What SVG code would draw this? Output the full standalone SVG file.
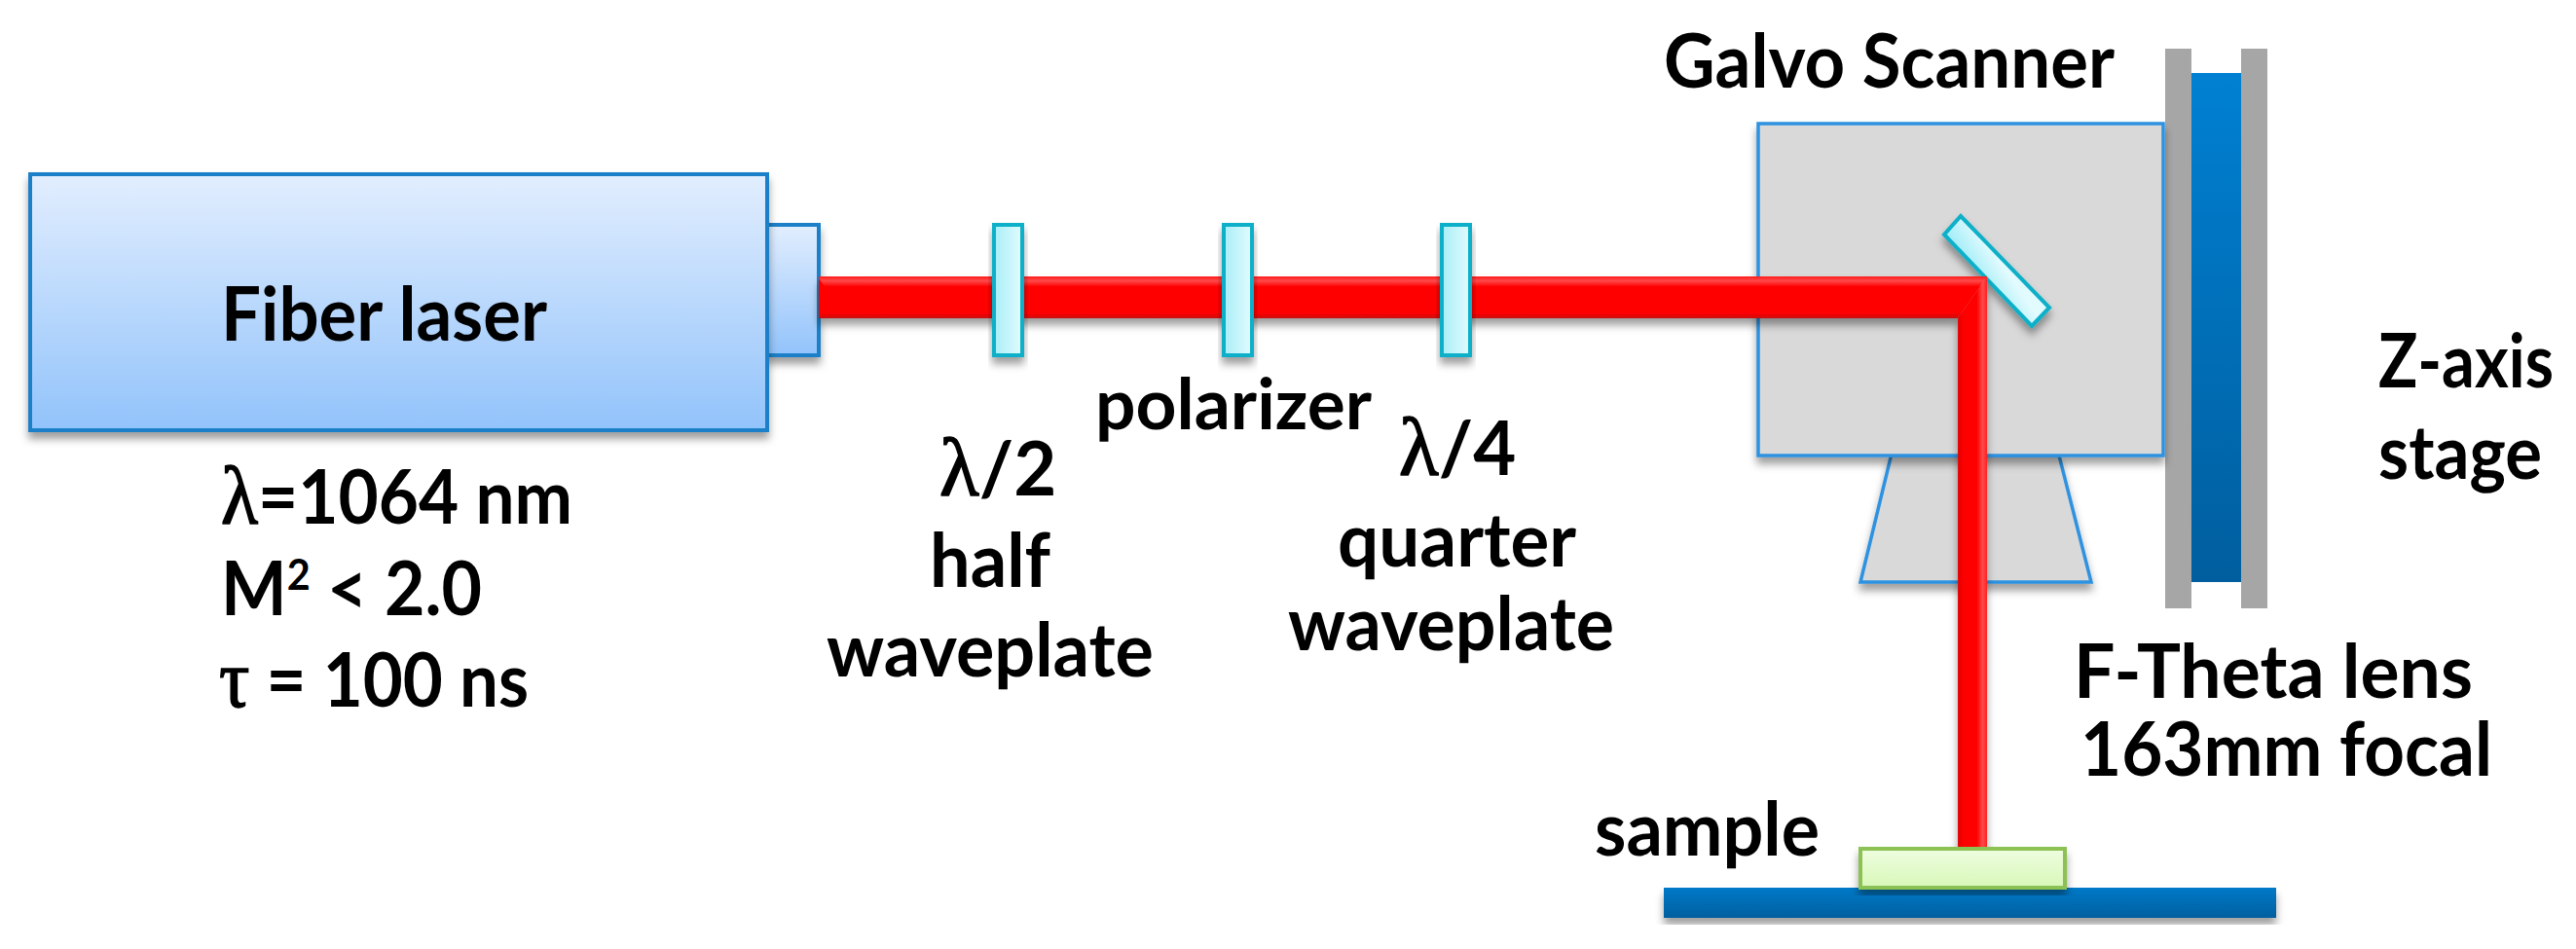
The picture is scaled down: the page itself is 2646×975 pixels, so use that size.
<svg xmlns="http://www.w3.org/2000/svg" width="2646" height="975" viewBox="0 0 2646 975">
<style>
text{font-family:"Lato","Liberation Sans",sans-serif;font-weight:700;font-size:76px;fill:#000}
.g{font-family:"Liberation Serif",serif;font-weight:400;font-size:84px;stroke:#000;stroke-width:1.5}
.box{stroke:#1b80c8;stroke-width:4}
.plate{fill:url(#plate);stroke:#0fb0c8;stroke-width:4;filter:url(#sh)}
.gray{fill:#d9d9d9;stroke:#2f92e0;stroke-width:3.5}
.bar{fill:#a6a6a6}
</style>
<defs>
<linearGradient id="laser" x1="0" y1="0" x2="0" y2="1"><stop offset="0" stop-color="#e2eefe"/><stop offset="1" stop-color="#92c3fb"/></linearGradient>
<linearGradient id="plate" x1="0" y1="0" x2="1" y2="0"><stop offset="0" stop-color="#a8eef8"/><stop offset="1" stop-color="#e2fbfe"/></linearGradient>
<linearGradient id="mirror" gradientUnits="userSpaceOnUse" x1="2040" y1="295" x2="2062" y2="280"><stop offset="0" stop-color="#a8eef8"/><stop offset="1" stop-color="#e2fbfe"/></linearGradient>
<linearGradient id="beamH" x1="0" y1="0" x2="0" y2="1"><stop offset="0" stop-color="#ff1a1a"/><stop offset=".1" stop-color="#ff4a4a"/><stop offset=".25" stop-color="#ff0000"/><stop offset=".88" stop-color="#ff0000"/><stop offset="1" stop-color="#c80c0c"/></linearGradient>
<linearGradient id="beamV" x1="0" y1="0" x2="1" y2="0"><stop offset="0" stop-color="#e00808"/><stop offset=".2" stop-color="#ff0000"/><stop offset=".65" stop-color="#ff0000"/><stop offset=".85" stop-color="#ff4a4a"/><stop offset="1" stop-color="#ff2020"/></linearGradient>
<linearGradient id="blueV" x1="0" y1="0" x2="0" y2="1"><stop offset="0" stop-color="#0080d2"/><stop offset="1" stop-color="#005e9e"/></linearGradient>
<linearGradient id="blueH" x1="0" y1="0" x2="0" y2="1"><stop offset="0" stop-color="#0079c8"/><stop offset="1" stop-color="#005f9f"/></linearGradient>
<linearGradient id="green" x1="0" y1="0" x2="0" y2="1"><stop offset="0" stop-color="#eefde0"/><stop offset="1" stop-color="#d8f8b8"/></linearGradient>
<filter id="sh" x="-20%" y="-20%" width="140%" height="140%"><feDropShadow dx="0" dy="7" stdDeviation="4" flood-color="#000" flood-opacity=".38"/></filter>
</defs>

<g id="z-axis-stage">
<rect class="bar" x="2224" y="50" width="27" height="575"/>
<rect class="bar" x="2302" y="50" width="27" height="575"/>
<rect x="2251" y="75" width="51" height="523" fill="url(#blueV)"/>
<text x="2443" y="398" textLength="180" lengthAdjust="spacingAndGlyphs">Z-axis</text>
<text x="2443" y="492" textLength="168" lengthAdjust="spacingAndGlyphs">stage</text>
</g>

<g id="f-theta-lens">
<polygon class="gray" points="1942.5,468 2115,468 2148,598 1911,598" filter="url(#sh)"/>
<text x="2130" y="717" textLength="410" lengthAdjust="spacingAndGlyphs">F-Theta lens</text>
<text x="2137" y="797" textLength="423" lengthAdjust="spacingAndGlyphs">163mm focal</text>
</g>

<g id="galvo-scanner">
<rect class="gray" x="1806" y="127" width="416" height="341" filter="url(#sh)"/>
<polygon points="2014,222 2105,316 2087,335 1997,241" fill="url(#mirror)" stroke="#0fb0c8" stroke-width="4" filter="url(#sh)"/>
<text x="1709" y="90" textLength="463" lengthAdjust="spacingAndGlyphs">Galvo Scanner</text>
</g>

<g id="sample-stage">
<rect x="1709" y="912" width="629" height="31" fill="url(#blueH)" filter="url(#sh)"/>
</g>

<g id="fiber-laser">
<rect x="788" y="231" width="53" height="134" fill="url(#laser)" class="box" filter="url(#sh)"/>
<rect x="31" y="179" width="757" height="263" fill="url(#laser)" class="box" filter="url(#sh)"/>
<text x="227" y="350" textLength="335" lengthAdjust="spacingAndGlyphs">Fiber laser</text>
<text x="227" y="538" textLength="361" lengthAdjust="spacingAndGlyphs"><tspan class="g">λ</tspan>=1064 nm</text>
<text x="227" y="632" textLength="268" lengthAdjust="spacingAndGlyphs">M<tspan font-size="44" dy="-26">2</tspan><tspan dy="26"> &lt; 2.0</tspan></text>
<text x="225" y="726" textLength="318" lengthAdjust="spacingAndGlyphs"><tspan class="g">τ</tspan> = 100 ns</text>
</g>

<g id="connectors">
<g filter="url(#sh)">
<polygon points="841,284 2041,284 2011,327 841,327" fill="url(#beamH)"/>
<polygon points="2011,327 2041,284 2041,871 2011,871" fill="url(#beamV)"/>
</g>
<polygon points="841,286 860,312 841,325" fill="#ff0000"/>
</g>

<g id="half-waveplate">
<rect class="plate" x="1021" y="231" width="29" height="134"/>
<text x="965" y="509"><tspan class="g">λ</tspan>/2</text>
<text x="955" y="603" textLength="124" lengthAdjust="spacingAndGlyphs">half</text>
<text x="849" y="695" textLength="336" lengthAdjust="spacingAndGlyphs">waveplate</text>
</g>

<g id="polarizer">
<rect class="plate" x="1257" y="231" width="29" height="134"/>
<text x="1125" y="441" style="font-size:72px" textLength="284" lengthAdjust="spacingAndGlyphs">polarizer</text>
</g>

<g id="quarter-waveplate">
<rect class="plate" x="1481" y="231" width="29" height="134"/>
<text x="1437" y="488"><tspan class="g">λ</tspan>/4</text>
<text x="1374" y="582" textLength="245" lengthAdjust="spacingAndGlyphs">quarter</text>
<text x="1323" y="668" textLength="335" lengthAdjust="spacingAndGlyphs">waveplate</text>
</g>

<g id="sample">
<rect x="1911" y="872" width="210" height="40" fill="url(#green)" stroke="#8cc152" stroke-width="4" filter="url(#sh)"/>
<text x="1638" y="879" textLength="231" lengthAdjust="spacingAndGlyphs">sample</text>
</g>
</svg>
